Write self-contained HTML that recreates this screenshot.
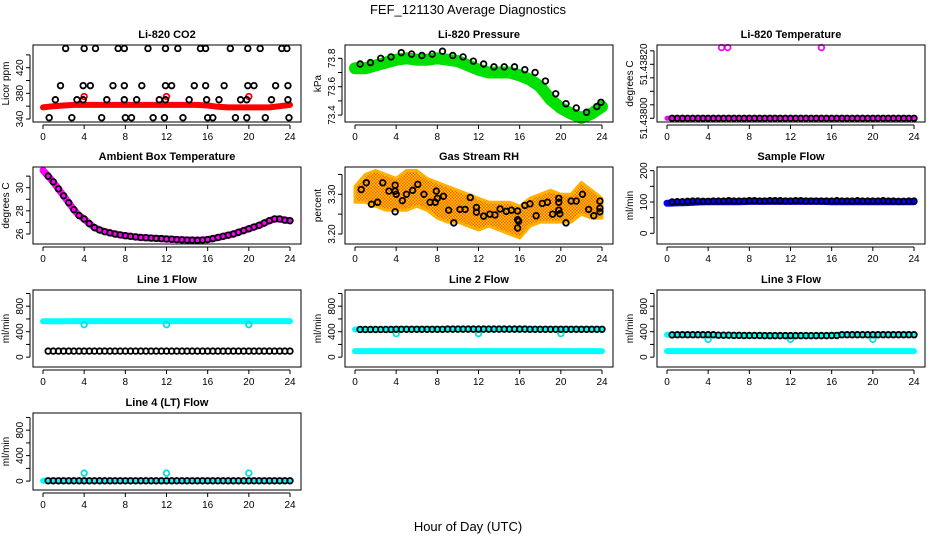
<!DOCTYPE html>
<html><head><meta charset="utf-8"><style>
html,body{margin:0;padding:0;background:#fff;}
svg{display:block;font-family:"Liberation Sans",sans-serif;}
</style></head><body>
<svg id="chart" width="936" height="540" viewBox="0 0 936 540" xmlns="http://www.w3.org/2000/svg">
<defs>
<pattern id="rhpat" width="3" height="3" patternUnits="userSpaceOnUse">
<rect width="3" height="3" fill="#ffd000"/><rect width="1.5" height="1.5" fill="#ff5a00"/><rect x="1.5" y="1.5" width="1.5" height="1.5" fill="#ff5a00"/>
</pattern>
</defs>
<text x="468" y="14" text-anchor="middle" font-size="13">FEF_121130  Average Diagnostics</text>
<text x="468" y="531" text-anchor="middle" font-size="13">Hour of Day (UTC)</text>
</svg>
<script>
const hours = [0,1,2,3,4,5,6,7,8,9,10,11,12,13,14,15,16,17,18,19,20,21,22,23,24];
const halfHours = [0,0.5,1,1.5,2,2.5,3,3.5,4,4.5,5,5.5,6,6.5,7,7.5,8,8.5,9,9.5,10,10.5,11,11.5,12,12.5,13,13.5,14,14.5,15,15.5,16,16.5,17,17.5,18,18.5,19,19.5,20,20.5,21,21.5,22,22.5,23,23.5,24];
const xTicks = [0,4,8,12,16,20,24];

// Li-820 CO2
const co2Band = [358,360,361,362,362,362,362,362,362,362,362,362,362,362,362,362,361,359,358,358,358,358,358,360,362];
const co2BumpHours = [4,12,20];
const co2BumpVals = [375,375,375];
const co2OutHours = [2.2,4.0,5.1,7.3,7.9,10.2,11.9,13.1,15.3,15.8,18.2,19.9,21.1,23.2,23.7,
 1.7,3.9,4.6,6.8,7.9,9.6,11.9,12.5,14.7,15.8,17.6,19.9,20.5,22.6,23.8,
 1.2,3.3,3.9,6.2,7.9,9.1,11.3,11.9,14.2,15.9,17.1,19.2,19.8,22.2,23.8,
 0.6,2.8,5.7,8.0,8.6,10.7,11.8,13.6,16.0,16.5,18.7,19.8,21.6,23.9];
const co2OutVals = [450,450,450,450,450,450,450,450,450,450,450,450,450,450,450,
 392,392,392,392,392,392,392,392,392,392,392,392,392,392,392,
 370,370,370,370,370,370,370,370,370,370,370,370,370,370,370,
 342,342,342,342,342,342,342,342,342,342,342,342,342,342];

// Li-820 Pressure
const pressBand = [73.73,73.73,73.75,73.77,73.79,73.80,73.79,73.79,73.80,73.79,73.78,73.75,73.72,73.70,73.70,73.70,73.68,73.65,73.60,73.51,73.45,73.41,73.38,73.41,73.46];
const pressPts = [73.76,73.77,73.80,73.81,73.84,73.83,73.82,73.83,73.85,73.82,73.81,73.78,73.76,73.74,73.74,73.74,73.72,73.70,73.64,73.55,73.48,73.45,73.42,73.46,73.49];

// Li-820 Temperature
const tempHours = [5.3,5.9,15.0];
const tempOut = [51.438262,51.438262,51.438262];
const tempBase = [51.438,51.438,51.438,51.438,51.438,51.438,51.438,51.438,51.438,51.438,51.438,51.438,51.438,51.438,51.438,51.438,51.438,51.438,51.438,51.438,51.438,51.438,51.438,51.438,51.438];

// Ambient Box Temperature
const ambVals = [31.5,31.0,30.5,29.9,29.3,28.7,28.1,27.6,27.3,26.9,26.55,26.35,26.2,26.1,26.0,25.92,25.85,25.8,25.75,25.7,25.68,25.65,25.62,25.6,25.57,25.55,25.52,25.5,25.48,25.47,25.46,25.48,25.52,25.6,25.7,25.8,25.9,26.0,26.15,26.3,26.45,26.6,26.75,26.95,27.15,27.3,27.3,27.2,27.15];

// Gas Stream RH
const rhUpper = [3.32,3.35,3.36,3.35,3.34,3.36,3.36,3.34,3.33,3.32,3.31,3.30,3.29,3.28,3.28,3.28,3.27,3.29,3.30,3.31,3.30,3.30,3.33,3.31,3.29];
const rhLower = [3.28,3.28,3.27,3.26,3.26,3.26,3.27,3.26,3.24,3.23,3.23,3.22,3.21,3.22,3.21,3.20,3.19,3.22,3.23,3.23,3.23,3.23,3.25,3.24,3.24];
const rhPtHours = [0.6,1.1,1.6,2.2,2.7,3.3,3.9,3.9,4.0,3.9,4.6,5.0,5.6,6.1,6.7,7.3,7.8,7.9,8.0,8.6,9.1,9.6,10.2,10.7,11.2,11.8,11.8,12.5,13.1,13.6,14.1,14.7,15.2,15.8,15.8,15.9,15.8,16.5,17.0,17.6,18.2,18.7,19.2,19.8,19.8,19.8,19.9,20.5,21.0,21.5,22.1,22.7,23.2,23.8,23.8,23.8];
const rhPtVals = [3.312,3.329,3.275,3.280,3.329,3.308,3.323,3.308,3.300,3.256,3.284,3.300,3.310,3.325,3.300,3.280,3.280,3.308,3.290,3.295,3.260,3.228,3.262,3.262,3.292,3.267,3.255,3.245,3.250,3.248,3.263,3.257,3.260,3.258,3.236,3.232,3.215,3.272,3.276,3.246,3.277,3.280,3.250,3.290,3.280,3.260,3.251,3.228,3.283,3.283,3.300,3.262,3.246,3.283,3.265,3.256];

// Sample Flow
const sampleBand = [96,97,98,100,101,101,101,101,102,102,102,102,102,102,102,102,101,101,101,101,101,101,101,101,101];
const sampleDots = [100,101,101,102,103,103,102,102,103,103,103,104,103,103,103,104,104,103,103,104,104,104,103,103,104,104,103,103,103,103,103,103,104,103,103,103,104,103,103,103,103,104,103,103,102,102,103,103,103];

// Line flows (cyan bands hourly, black dots half-hourly)
const line1Cyan = [565,565,565,566,566,567,567,567,567,567,567,567,567,567,567,567,566,566,566,566,566,566,566,566,566];
const line1Black = [95,95,95,95,95,95,95,95,95,95,95,95,95,95,95,95,95,95,95,95,95,95,95,95,95,95,95,95,95,95,95,95,95,95,95,95,95,95,95,95,95,95,95,95,95,95,95,95,95];
const line1DipVals = [510,510,510];
const line2Cyan = [95,95,95,95,95,95,95,95,95,95,95,95,95,95,95,95,95,95,95,95,95,95,95,95,95];
const line2Black = [435,435,435,435,435,435,435,438,438,438,438,438,438,438,438,438,438,440,440,440,440,440,440,440,440,440,440,440,440,440,440,440,440,438,438,438,438,438,438,438,438,438,438,438,438,438,438,438,438];
const line2DipVals = [370,370,370];
const line3Cyan = [95,95,95,95,95,95,95,95,95,95,95,95,95,95,95,95,95,95,95,95,95,95,95,95,95];
const line3Cyan2 = [352,352,352,352,350,340,340,340,340,340,335,335,335,335,335,335,345,355,355,355,355,355,355,355,355];
const line3Black = [350,352,352,352,352,352,352,352,352,345,345,345,342,342,340,340,340,340,338,338,338,338,338,338,338,338,338,338,338,338,338,340,340,352,352,352,352,352,352,352,352,352,352,352,352,352,352,352,352];
const line3DipVals = [280,280,280];
const line4Cyan = [5,5,5,5,5,5,5,5,5,5,5,5,5,5,5,5,5,5,5,5,5,5,5,5,5];
const line4Black = [5,5,5,5,5,5,5,5,5,5,5,5,5,5,5,5,5,5,5,5,5,5,5,5,5,5,5,5,5,5,5,5,5,5,5,5,5,5,5,5,5,5,5,5,5,5,5,5,5];
const line4DipVals = [125,125,125];
const dipHours = [4,12,20];

const NS = "http://www.w3.org/2000/svg";
const svg = document.getElementById('chart');
function mk(tag, attrs, parent){
  const e = document.createElementNS(NS, tag);
  for (const k in attrs) e.setAttribute(k, attrs[k]);
  (parent||svg).appendChild(e);
  return e;
}
const rowTops = [45,167,290,413];
function panel(c, r, title, ylab, ymin, ymax, yticks, ylabels, name){
  const L = 33 + 312*c, T = rowTops[r], W = 268, H = 77, B = T + H;
  const g = mk('g', {});
  
  
  const x = h => L + 10 + h * (247/24);
  const y = v => B - (v - ymin) / (ymax - ymin) * H;
  const dataG = mk('g', {}, g);
  
  
  const box = mk('rect', {x:L, y:T, width:W, height:H, fill:'none', stroke:'#000', 'stroke-width':1}, g);
  
  
  const t = mk('text', {x:L + W/2, y:T - 7, 'text-anchor':'middle', 'font-size':11, 'font-weight':'bold'}, g);
  
  
  t.textContent = title;
  const xa = mk('g', {}, g);
  
  
  mk('line', {x1:x(0), x2:x(24), y1:B+3, y2:B+3, stroke:'#000'}, xa);
  xTicks.forEach(v => {
    mk('line', {x1:x(v), x2:x(v), y1:B+3, y2:B+7, stroke:'#000'}, xa);
    const tl = mk('text', {x:x(v), y:B+18, 'text-anchor':'middle', 'font-size':10}, xa);
    
    
    tl.textContent = v;
  });
  const ya = mk('g', {}, g);
  
  
  mk('line', {x1:L-3, x2:L-3, y1:y(yticks[0]), y2:y(yticks[yticks.length-1]), stroke:'#000'}, ya);
  yticks.forEach((v,i) => {
    mk('line', {x1:L-3, x2:L-7, y1:y(v), y2:y(v), stroke:'#000'}, ya);
    if (ylabels[i] !== '') {
      const yl = mk('text', {x:0, y:0, 'text-anchor':'middle', 'font-size':10, transform:`translate(${L-10},${y(v)}) rotate(-90)`}, ya);
      
      
      yl.textContent = ylabels[i];
    }
  });
  const yt = mk('text', {x:0, y:0, 'text-anchor':'middle', 'font-size':10, transform:`translate(${L-24},${T+H/2}) rotate(-90)`}, g);
  
  
  yt.textContent = ylab;
  return {x, y, g:dataG};
}
function band(p, xs, vals, color, w, nm){
  const pts = xs.map((h,i) => p.x(h).toFixed(1) + ',' + p.y(vals[i]).toFixed(1)).join(' ');
  const pl = mk('polyline', {points:pts, fill:'none', stroke:color, 'stroke-width':w, 'stroke-linejoin':'round', 'stroke-linecap':'round'}, p.g);
  
  
}
function dots(p, xs, vals, color, nm){
  xs.forEach((h,i) => {
    const c = mk('circle', {cx:p.x(h), cy:p.y(vals[i]), r:2.8, fill:'none', stroke:color, 'stroke-width':1.8}, p.g);
    
    
  });
}
const halfFrom = halfHours.slice(1).concat([23.9]).slice(0,48);

let p = panel(0,0,'Li-820 CO2','Licor ppm',335.3,455.4,[340,360,380,400,420,440],['340','','380','','420',''],'co2');
band(p, hours, co2Band, '#ff0000', 6, 'co2-band');
dots(p, co2BumpHours, co2BumpVals, '#ff0000', 'co2-red-point');
dots(p, co2OutHours, co2OutVals, '#000', 'co2-outlier-point');

p = panel(1,0,'Li-820 Pressure','kPa',73.351,73.894,[73.4,73.5,73.6,73.7,73.8],['73.4','','73.6','','73.8'],'pressure');
band(p, hours, pressBand, '#00e000', 12, 'pressure-band');
dots(p, hours.map(h=>Math.min(h+0.5,23.9)), pressPts, '#000', 'pressure-point');

p = panel(2,0,'Li-820 Temperature','degrees C',51.4379863,51.4382715,[51.438,51.43805,51.4381,51.43815,51.4382,51.43825],['51.43800','','','','51.43820',''],'li820-temp');
band(p, hours, tempBase, '#ff00ff', 5, 'li820-temp-band');
dots(p, halfFrom, halfFrom.map((h,i)=>tempBase[0]), '#000', 'li820-temp-point');
dots(p, tempHours, tempOut, '#ff00ff', 'li820-temp-outlier');

p = panel(0,1,'Ambient Box Temperature','degrees C',25.136,31.788,[26,27,28,29,30,31],['26','','28','','30',''],'ambient-temp');
band(p, halfHours, ambVals, '#ff00ff', 7, 'ambient-band');
dots(p, halfHours.slice(1), ambVals.slice(1), '#000', 'ambient-point');

p = panel(1,1,'Gas Stream RH','percent',3.1748,3.3688,[3.20,3.25,3.30,3.35],['3.20','','3.30',''],'rh');
{
  const up = hours.map((h,i)=>p.x(h).toFixed(1)+','+p.y(rhUpper[i]).toFixed(1));
  const lo = hours.slice().reverse().map(h=>{const i=hours.indexOf(h);return p.x(h).toFixed(1)+','+p.y(rhLower[i]).toFixed(1);});
  const poly = mk('polygon', {points:up.concat(lo).join(' '), fill:'url(#rhpat)', stroke:'#ffb000', 'stroke-width':3, 'stroke-linejoin':'round'}, p.g);
  
  
}
dots(p, rhPtHours, rhPtVals, '#000', 'rh-point');

p = panel(2,1,'Sample Flow','ml/min',-34.2,211.8,[0,50,100,150,200],['0','','100','','200'],'sample-flow');
band(p, hours, sampleBand, '#0000ff', 7, 'sample-band');
dots(p, halfFrom, sampleDots.slice(0,48), '#000', 'sample-point');

const flowTicks = [0,200,400,600,800,1000];
const flowLabels = ['0','','400','','800',''];
p = panel(0,2,'Line 1 Flow','ml/min',-155,1055,flowTicks,flowLabels,'line1');
band(p, hours, line1Cyan, '#00ffff', 6, 'line1-cyan-band');
dots(p, dipHours, line1DipVals, '#00e0e0', 'line1-cyan-point');
dots(p, halfFrom, line1Black.slice(0,48), '#000', 'line1-point');

p = panel(1,2,'Line 2 Flow','ml/min',-155,1055,flowTicks,flowLabels,'line2');
band(p, hours, line2Cyan, '#00ffff', 6, 'line2-cyan-band');
band(p, hours, line2Black.filter((v,i)=>i%2===0), '#00ffff', 6, 'line2-cyan-band-2');
dots(p, dipHours, line2DipVals, '#00e0e0', 'line2-cyan-point');
dots(p, halfFrom, line2Black.slice(0,48), '#000', 'line2-point');

p = panel(2,2,'Line 3 Flow','ml/min',-155,1055,flowTicks,flowLabels,'line3');
band(p, hours, line3Cyan, '#00ffff', 6, 'line3-cyan-band');
band(p, hours, line3Cyan2, '#00ffff', 6, 'line3-cyan-band-2');
dots(p, dipHours, line3DipVals, '#00e0e0', 'line3-cyan-point');
dots(p, halfFrom, line3Black.slice(0,48), '#000', 'line3-point');

p = panel(0,3,'Line 4 (LT) Flow','ml/min',-140,1070,flowTicks,flowLabels,'line4');
band(p, hours, line4Cyan, '#00ffff', 6, 'line4-cyan-band');
dots(p, dipHours, line4DipVals, '#00e0e0', 'line4-cyan-point');
dots(p, halfFrom, line4Black.slice(0,48), '#000', 'line4-point');
</script>
</body></html>
